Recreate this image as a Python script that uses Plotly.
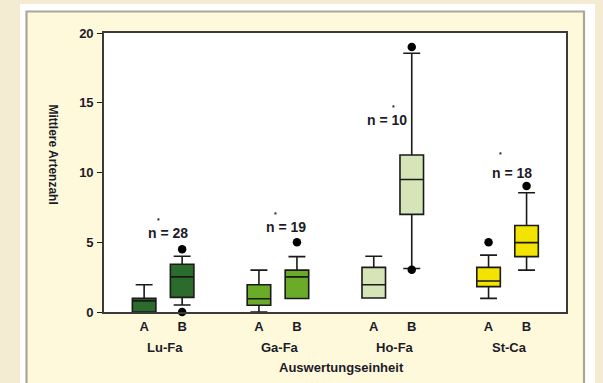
import plotly.graph_objects as go

# ---------------- data ----------------
groups = ["Lu-Fa", "Ga-Fa", "Ho-Fa", "St-Ca"]
subgroups = ["A", "B"]
colors = ["#2b6b2c", "#6aab28", "#d5e5b8", "#f2e400"]

q1_A = [0.0, 0.48, 1.0, 1.82]
med_A = [0.8, 0.95, 1.95, 2.22]
q3_A = [0.98, 1.95, 3.2, 3.2]
lo_A = [0.0, 0.0, 1.0, 0.98]
hi_A = [1.95, 3.0, 4.0, 4.08]

q1_B = [1.05, 0.97, 7.0, 3.97]
med_B = [2.52, 2.52, 9.5, 4.97]
q3_B = [3.42, 3.0, 11.25, 6.2]
lo_B = [0.5, 0.97, 3.12, 3.0]
hi_B = [4.0, 3.97, 18.55, 8.55]

# outliers: (group index, subgroup, value)
out_group = [0, 0, 1, 2, 2, 3, 3]
out_sub = ["B", "B", "B", "B", "B", "A", "B"]
out_val = [4.5, 0.0, 5.0, 19.0, 3.03, 5.0, 9.03]

n_labels = ["n = 28", "n = 19", "n = 10", "n = 18"]
n_x = [0.046, 1.067, 1.946, 3.037]
n_y = [5.64, 6.07, 13.76, 9.98]
star_x = [-0.043, 0.979, 2.009, 2.937]
star_y = [6.54, 6.97, 14.69, 11.29]

# ---------------- styling ----------------
OFF = 0.1655
BOXW = 0.205
FONT = "Liberation Sans, Arial, sans-serif"
TXT = "#1c1c28"
sub_off = {"A": -OFF, "B": OFF}


def f(size):
    return dict(family=FONT, size=size, color=TXT, weight="bold")


fig = go.Figure()

for i, g in enumerate(groups):
    fig.add_trace(go.Box(
        x=[i - OFF, i + OFF],
        q1=[q1_A[i], q1_B[i]],
        median=[med_A[i], med_B[i]],
        q3=[q3_A[i], q3_B[i]],
        lowerfence=[lo_A[i], lo_B[i]],
        upperfence=[hi_A[i], hi_B[i]],
        width=BOXW,
        whiskerwidth=0.72,
        fillcolor=colors[i],
        line=dict(color="#1a1a1a", width=1.6),
        boxpoints=False,
        showlegend=False,
        hoverinfo="skip",
        name=g,
    ))

fig.add_trace(go.Scatter(
    x=[gi + sub_off[s] for gi, s in zip(out_group, out_sub)],
    y=out_val,
    mode="markers",
    marker=dict(color="#000000", size=8.5),
    cliponaxis=False,
    showlegend=False,
    hoverinfo="skip",
))

tickvals = []
ticktext = []
for i in range(len(groups)):
    for s in subgroups:
        tickvals.append(i + sub_off[s])
        ticktext.append(s)

annotations = []
for i, lab in enumerate(n_labels):
    annotations.append(dict(x=n_x[i], y=n_y[i], xref="x", yref="y", text=lab,
                            showarrow=False, font=f(14)))
    annotations.append(dict(x=star_x[i], y=star_y[i], xref="x", yref="y", text="*",
                            showarrow=False, borderpad=0, font=f(7)))
for i, g in enumerate(groups):
    annotations.append(dict(x=i + 0.02, y=0, xref="x", yref="paper", yanchor="middle",
                            yshift=-35, text=g, showarrow=False, font=f(13)))
annotations.append(dict(x=0.5, y=0, xref="paper", yref="paper", xshift=6, yshift=-55,
                        xanchor="center", yanchor="middle", text="Auswertungseinheit",
                        showarrow=False, font=f(13)))
annotations.append(dict(x=0, y=0.5645, xref="paper", yref="paper", xshift=-51,
                        xanchor="center", yanchor="middle",
                        text="Mittlere Artenzahl", textangle=90, showarrow=False,
                        font=f(12)))

shapes = [
    # white frame
    dict(type="rect", xref="paper", yref="paper", xsizemode="pixel", ysizemode="pixel",
         xanchor=0, yanchor=0, x0=-84, x1=491, y0=-95, y1=308,
         fillcolor="#ffffff", line=dict(width=0), layer="below"),
    # cream panel
    dict(type="rect", xref="paper", yref="paper", xsizemode="pixel", ysizemode="pixel",
         xanchor=0, yanchor=0, x0=-77.5, x1=480, y0=-95, y1=300.5,
         fillcolor="#fff9dc", line=dict(color="#a9a79c", width=2.2), layer="below"),
    # white plot area
    dict(type="rect", xref="paper", yref="paper", x0=0, x1=1, y0=0, y1=1,
         fillcolor="#ffffff", line=dict(width=0), layer="below"),
]

fig.update_layout(
    width=603, height=383,
    margin=dict(l=104, r=37, t=33, b=71),
    paper_bgcolor="#f3ecd3",
    plot_bgcolor="#ffffff",
    boxmode="overlay",
    font=dict(family=FONT, color=TXT),
    shapes=shapes,
    annotations=annotations,
    hovermode=False,
    xaxis=dict(range=[-0.515, 3.509], tickvals=tickvals, ticktext=ticktext,
               ticks="", showgrid=False, zeroline=False, showline=True, mirror=True,
               linecolor="#3a3a3a", linewidth=1.6,
               tickfont=f(13), ticklabelstandoff=2),
    yaxis=dict(range=[0, 20], tickvals=[0, 5, 10, 15, 20], ticks="outside", ticklen=5,
               tickwidth=1.3, tickcolor="#1a1a1a", showgrid=False, zeroline=False,
               showline=True, mirror=True, linecolor="#3a3a3a", linewidth=1.6,
               tickfont=f(13), ticklabelstandoff=1),
)

fig.write_html(
    "out.html",
    config={"displayModeBar": False},
    post_script="document.body.style.margin='0';document.body.style.background='#f3ecd3';",
)
